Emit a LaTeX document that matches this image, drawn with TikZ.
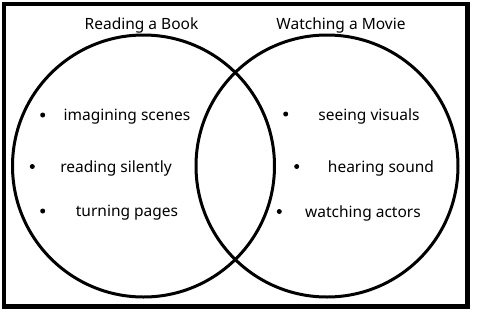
\documentclass[tikz,border=0pt]{standalone}
\usepackage{fontspec}
\setmainfont{Noto Sans}
\usepackage{tikz}

\begin{document}
\begin{tikzpicture}[
  x=1pt, y=-1pt,
  font=\fontsize{15.5}{18}\selectfont,
  frame/.style={draw, line width=4.5pt},
  set/.style={draw, circle, line width=3pt, inner sep=0pt, minimum size=262pt},
  title/.style={anchor=center, inner sep=1pt},
  item/.style={anchor=center, inner sep=1pt},
  dot/.style={circle, fill=black, inner sep=0pt, minimum size=5pt},
]
\useasboundingbox (0,0) rectangle (483,322);
\draw[frame] (4.2,4.2) rectangle (467.5,306.5);
% the two sets
\node[set] (book) at (143.5,166) {};
\node[set] (movie) at (327,166) {};
\node[title] (booktitle) at (141.5,25) {Reading a Book};
\node[title] (movietitle) at (341,25) {Watching a Movie};
% reading a book
\node[dot] (bd1) at (42.7,115) {};
\node[item] (b1) at (127,117) {imagining scenes};
\node[dot] (bd2) at (32.3,166.5) {};
\node[item] (b2) at (116,168.5) {reading silently};
\node[dot] (bd3) at (42.7,211) {};
\node[item] (b3) at (127,213) {turning pages};
% watching a movie
\node[dot] (md1) at (285.7,114) {};
\node[item] (m1) at (369,116) {seeing visuals};
\node[dot] (md2) at (296.7,166.5) {};
\node[item] (m2) at (381,168.5) {hearing sound};
\node[dot] (md3) at (279.3,211.5) {};
\node[item] (m3) at (363,213.5) {watching actors};
\end{tikzpicture}
\end{document}
